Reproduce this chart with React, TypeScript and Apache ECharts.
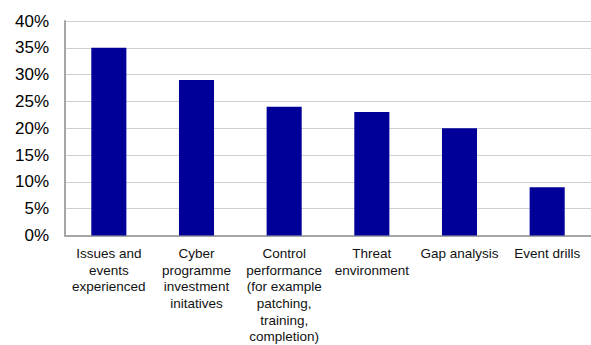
import React, { useEffect, useRef } from "react";
import * as echarts from "echarts";

const categories = [
  "Issues and\nevents\nexperienced",
  "Cyber\nprogramme\ninvestment\ninitatives",
  "Control\nperformance\n(for example\npatching,\ntraining,\ncompletion)",
  "Threat\nenvironment",
  "Gap analysis",
  "Event drills",
];
const values = [35, 29, 24, 23, 20, 9];
const yMin = 0;
const yMax = 40;
const yStep = 5;

export default function App() {
  const ref = useRef<HTMLDivElement>(null);
  useEffect(() => {
    if (!ref.current) return;
    const chart = echarts.init(ref.current, null, { renderer: "svg" });
    chart.setOption({
      animation: false,
      backgroundColor: "#ffffff",
      grid: { left: 65, top: 21, width: 528, height: 216, containLabel: false },
      xAxis: {
        type: "category",
        data: categories,
        axisLine: { show: true, lineStyle: { color: "#a6a6a6", width: 2 } },
        axisTick: { show: false },
        axisLabel: {
          interval: 0,
          margin: 10,
          fontFamily: "Liberation Sans, Arial, sans-serif",
          fontSize: 13.5,
          lineHeight: 16.6,
          color: "#111",
          align: "center",
        },
      },
      yAxis: {
        type: "value",
        min: yMin,
        max: yMax,
        interval: yStep,
        axisLine: { show: true, lineStyle: { color: "#a6a6a6", width: 2 } },
        axisTick: { show: false },
        splitLine: { show: true, lineStyle: { color: "#cfcfcf", width: 1 } },
        axisLabel: {
          margin: 16,
          fontFamily: "Liberation Sans, Arial, sans-serif",
          fontSize: 17,
          color: "#000",
          formatter: (v: number) => `${v}%`,
        },
      },
      series: [
        {
          type: "bar",
          data: values,
          barWidth: "40%",
          itemStyle: { color: "#000099" },
        },
      ],
    });
    return () => chart.dispose();
  }, []);
  return (
    <div
      ref={ref}
      style={{ position: "fixed", left: 0, top: 0, width: 591, height: 345 }}
    />
  );
}
